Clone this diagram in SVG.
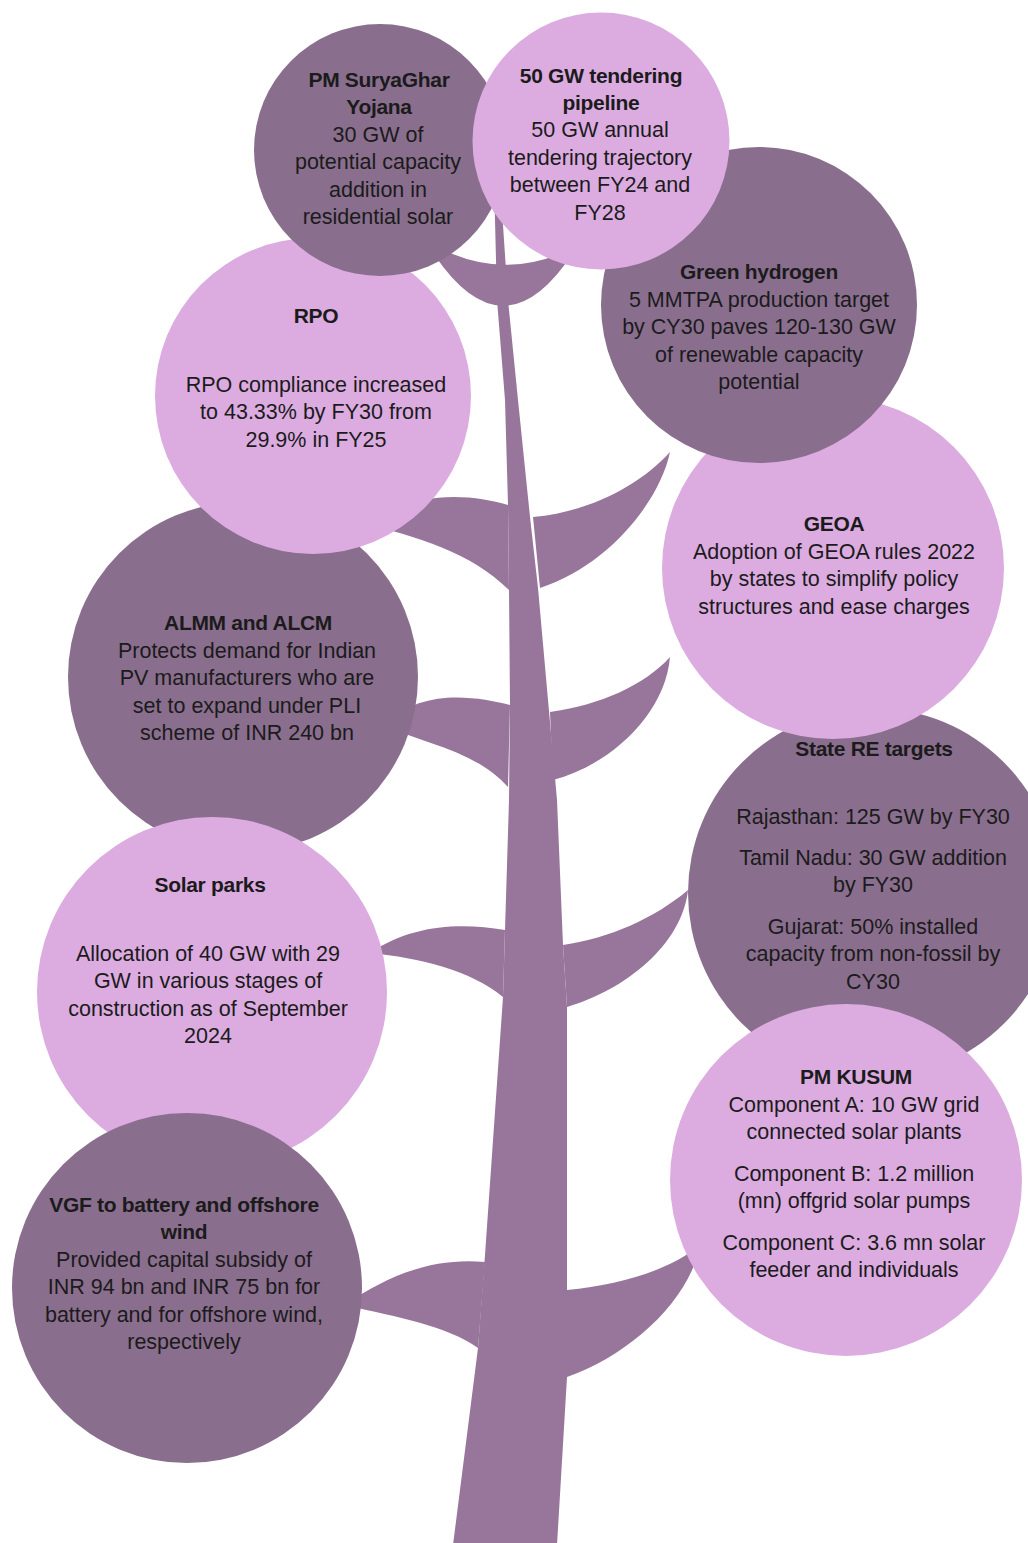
<svg xmlns="http://www.w3.org/2000/svg" width="1028" height="1543" viewBox="0 0 1028 1543">
  <style>
    .dark { fill: #8a6e8e; }
    .light { fill: #dcace1; }
    .wood { fill: #98769c; }
    text { font-family: "Liberation Sans", Arial, sans-serif; font-size: 21.5px; fill: #1b1b1b; text-anchor: middle; }
    .hd { font-weight: bold; font-size: 21px; letter-spacing: -0.3px; }
  </style>
  <rect width="1028" height="1543" fill="#ffffff"/>

  <!-- trunk, fork and leaves -->
  <g id="connectors">
    <path class="wood" d="M 494 180 L 497 300 L 505 400 L 508 505 L 509 590 L 510 705 L 509 800 L 505 930 L 503 997 L 485 1255 L 478 1348 L 453 1545 L 557 1545 L 567 1377 L 567 1275 L 567 1007 L 563 945 L 557 800 L 548 700 L 538 588 L 530 517 L 518 400 L 508 300 L 500 180 Z"/>
    <path class="wood" d="M 425 240 Q 502 369 578 245 Q 502 287 425 240 Z"/>
    <!-- right side leaves -->
    <path class="wood" d="M 533 517 C 590 512, 640 485, 670 452 C 660 500, 610 565, 540 588 Z"/>
    <path class="wood" d="M 550 712 C 600 705, 645 685, 670 657 C 665 715, 610 765, 553 780 Z"/>
    <path class="wood" d="M 563 945 C 610 938, 655 918, 688 890 C 682 945, 625 990, 567 1007 Z"/>
    <path class="wood" d="M 567 1290 C 620 1285, 670 1270, 700 1245 C 690 1300, 630 1355, 567 1377 Z"/>
    <!-- left side leaves -->
    <path class="wood" d="M 508 505 C 470 494, 420 490, 360 522 C 420 538, 470 552, 509 590 Z"/>
    <path class="wood" d="M 510 705 C 475 696, 420 688, 385 725 C 425 745, 475 750, 508 787 Z"/>
    <path class="wood" d="M 505 930 C 460 922, 410 925, 370 953 C 420 958, 470 970, 503 997 Z"/>
    <path class="wood" d="M 485 1262 C 440 1258, 395 1270, 345 1305 C 400 1318, 445 1325, 478 1348 Z"/>
  </g>

  <g id="state-re">
    <circle class="dark" cx="873" cy="893" r="185"/>
    <text x="874" y="756" class="hd">State RE targets</text>
    <text x="873" y="824">Rajasthan: 125 GW by FY30</text>
    <text x="873" y="865">Tamil Nadu: 30 GW addition</text>
    <text x="873" y="892">by FY30</text>
    <text x="873" y="934">Gujarat: 50% installed</text>
    <text x="873" y="961">capacity from non-fossil by</text>
    <text x="873" y="989">CY30</text>
  </g>

  <g id="geoa">
    <circle class="light" cx="833" cy="568" r="171"/>
    <text x="834" y="531" class="hd">GEOA</text>
    <text x="834" y="559">Adoption of GEOA rules 2022</text>
    <text x="834" y="586">by states to simplify policy</text>
    <text x="834" y="614">structures and ease charges</text>
  </g>

  <g id="green-hydrogen">
    <circle class="dark" cx="759" cy="305" r="158"/>
    <text x="759" y="279" class="hd">Green hydrogen</text>
    <text x="759" y="307">5 MMTPA production target</text>
    <text x="759" y="334">by CY30 paves 120-130 GW</text>
    <text x="759" y="362">of renewable capacity</text>
    <text x="759" y="389">potential</text>
  </g>

  <g id="almm-alcm">
    <circle class="dark" cx="243" cy="677" r="175"/>
    <text x="248" y="630" class="hd">ALMM and ALCM</text>
    <text x="247" y="658">Protects demand for Indian</text>
    <text x="247" y="685">PV manufacturers who are</text>
    <text x="247" y="713">set to expand under PLI</text>
    <text x="247" y="740">scheme of INR 240 bn</text>
  </g>

  <g id="rpo">
    <circle class="light" cx="313" cy="396" r="158"/>
    <text x="316" y="323" class="hd">RPO</text>
    <text x="316" y="392">RPO compliance increased</text>
    <text x="316" y="419">to 43.33% by FY30 from</text>
    <text x="316" y="447">29.9% in FY25</text>
  </g>

  <g id="pm-suryaghar">
    <circle class="dark" cx="380" cy="150" r="126"/>
    <text x="379" y="87" class="hd">PM SuryaGhar</text>
    <text x="379" y="114" class="hd">Yojana</text>
    <text x="378" y="142">30 GW of</text>
    <text x="378" y="169">potential capacity</text>
    <text x="378" y="197">addition in</text>
    <text x="378" y="224">residential solar</text>
  </g>

  <g id="tendering-pipeline">
    <circle class="light" cx="601" cy="141" r="128.5"/>
    <text x="601" y="83" class="hd">50 GW tendering</text>
    <text x="601" y="110" class="hd">pipeline</text>
    <text x="600" y="137">50 GW annual</text>
    <text x="600" y="165">tendering trajectory</text>
    <text x="600" y="192">between FY24 and</text>
    <text x="600" y="220">FY28</text>
  </g>

  <g id="solar-parks">
    <circle class="light" cx="212" cy="992" r="175"/>
    <text x="210" y="892" class="hd">Solar parks</text>
    <text x="208" y="961">Allocation of 40 GW with 29</text>
    <text x="208" y="988">GW in various stages of</text>
    <text x="208" y="1016">construction as of September</text>
    <text x="208" y="1043">2024</text>
  </g>

  <g id="vgf">
    <circle class="dark" cx="187" cy="1288" r="175"/>
    <text x="184" y="1212" class="hd">VGF to battery and offshore</text>
    <text x="184" y="1239" class="hd">wind</text>
    <text x="184" y="1267">Provided capital subsidy of</text>
    <text x="184" y="1294">INR 94 bn and INR 75 bn for</text>
    <text x="184" y="1322">battery and for offshore wind,</text>
    <text x="184" y="1349">respectively</text>
  </g>

  <g id="pm-kusum">
    <circle class="light" cx="846" cy="1180" r="176"/>
    <text x="856" y="1084" class="hd">PM KUSUM</text>
    <text x="854" y="1112">Component A: 10 GW grid</text>
    <text x="854" y="1139">connected solar plants</text>
    <text x="854" y="1181">Component B: 1.2 million</text>
    <text x="854" y="1208">(mn) offgrid solar pumps</text>
    <text x="854" y="1250">Component C: 3.6 mn solar</text>
    <text x="854" y="1277">feeder and individuals</text>
  </g>
</svg>
